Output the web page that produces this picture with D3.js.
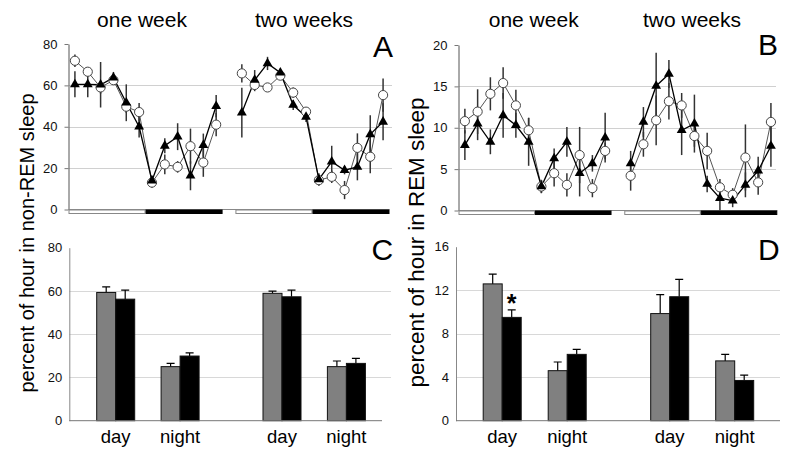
<!DOCTYPE html>
<html><head><meta charset="utf-8">
<script src="https://cdn.jsdelivr.net/npm/d3@7"></script>
<style>html,body{margin:0;padding:0;background:#fff;}svg{display:block;font-family:"Liberation Sans",Arial,sans-serif;}</style>
</head><body><svg id="c" width="800" height="451"></svg>
<script>
// ---------- DATA ----------
const weekLabels = ["one week", "two weeks"];
const phaseLabels = ["day", "night"];
// Panel A: % of hour in non-REM sleep, 12 two-hour bins per week
const nremCircleW1 = [71.9, 66.6, 59.0, 62.5, 49.7, 47.1, 13.0, 21.8, 20.6, 30.6, 22.7, 41.0];
const nremCircleW2 = [65.8, 60.2, 59.0, 64.7, 56.5, 47.3, 14.2, 15.8, 9.4, 29.8, 25.5, 55.3];
const nremCircleErrW1 = [3.0, 2.0, 3.0, 2.0, 3.0, 4.4, 2.5, 4.8, 2.8, 8.5, 6.9, 5.6];
const nremCircleErrW2 = [4.4, 3.0, 2.0, 2.0, 2.5, 2.0, 2.5, 3.0, 4.4, 7.0, 8.0, 8.0];
const nremTriW1 = [60.5, 60.5, 60.3, 63.7, 51.6, 40.0, 13.9, 30.8, 35.2, 16.3, 31.1, 50.0];
const nremTriW2 = [46.8, 62.6, 70.6, 66.1, 50.5, 44.8, 14.5, 23.1, 19.0, 20.6, 36.3, 42.4];
const nremTriErrW1 = [6.3, 6.2, 11.0, 2.8, 8.9, 5.2, 2.4, 3.6, 6.5, 7.0, 5.6, 5.4];
const nremTriErrW2 = [12.0, 4.8, 3.2, 2.0, 2.4, 2.5, 3.0, 7.7, 2.0, 6.5, 9.3, 8.9];
// Panel B: % of hour in REM sleep
const remCircleW1 = [10.8, 11.95, 14.1, 15.4, 12.7, 9.7, 2.9, 4.5, 3.1, 6.7, 2.7, 7.2];
const remCircleW2 = [4.2, 8.0, 10.9, 13.2, 12.7, 9.0, 7.2, 2.8, 1.9, 6.4, 3.4, 10.7];
const remCircleErrW1 = [1.5, 2.7, 2.0, 1.9, 1.9, 1.5, 0.8, 1.6, 1.4, 3.4, 1.1, 1.0];
const remCircleErrW2 = [1.8, 1.5, 3.0, 2.2, 1.5, 1.3, 2.2, 1.0, 0.8, 4.0, 1.5, 2.3];
const remTriW1 = [7.9, 10.5, 8.3, 11.5, 10.3, 8.3, 2.9, 6.3, 8.3, 4.5, 5.7, 8.8];
const remTriW2 = [5.7, 10.7, 15.05, 16.5, 9.7, 10.5, 3.2, 1.5, 1.2, 3.1, 4.8, 7.8];
const remTriErrW1 = [1.8, 2.0, 1.5, 2.7, 1.5, 2.9, 0.8, 1.2, 1.8, 2.8, 1.0, 3.0];
const remTriErrW2 = [1.5, 1.8, 4.0, 1.7, 3.0, 3.5, 1.0, 1.5, 0.8, 1.5, 1.7, 2.5];
// Panel C: non-REM day/night means (order: wk1 day, wk1 night, wk2 day, wk2 night)
const nremGray = [59.3, 25.0, 58.9, 25.0];
const nremGrayErr = [2.6, 1.5, 1.0, 2.6];
const nremBlack = [56.2, 29.9, 57.3, 26.5];
const nremBlackErr = [4.2, 1.5, 3.1, 2.3];
// Panel D: REM day/night means
const remGray = [12.58, 4.6, 9.85, 5.5];
const remGrayErr = [0.9, 0.8, 1.75, 0.6];
const remBlack = [9.5, 6.1, 11.4, 3.7];
const remBlackErr = [0.7, 0.45, 1.6, 0.5];
// ticks
const ticksA = [0, 20, 40, 60, 80];
const ticksB = [0, 5, 10, 15, 20];
const ticksC = [0, 20, 40, 60, 80];
const ticksD = [0, 4, 8, 12, 16];

// ---------- DRAW ----------
const svg = d3.select("#c");
svg.append("rect").attr("width", 800).attr("height", 451).attr("fill", "#fff");
const FONT = '"Liberation Sans",Arial,sans-serif';

function idx(w, j) { return w * 13 + j; }

function timePanel(cfg) {
  const g = svg.append("g");
  const x = d3.scaleLinear().domain([-0.5, 24.5]).range(cfg.xr);
  const y = d3.scaleLinear().domain(cfg.yd).range(cfg.yr);
  g.selectAll(".grid").data(cfg.ticks.slice(1, -1)).enter().append("line")
    .attr("x1", cfg.xr[0]).attr("x2", cfg.gridEnd)
    .attr("y1", d => Math.round(y(d)) + 0.5).attr("y2", d => Math.round(y(d)) + 0.5)
    .attr("stroke", "#d0d0d0").attr("stroke-width", 1);
  const ax = g.append("g").attr("transform", `translate(${cfg.xr[0]},0)`)
    .call(d3.axisLeft(y).tickValues(cfg.ticks).tickSize(4).tickPadding(7).tickSizeOuter(0));
  ax.select(".domain").attr("stroke", "#555");
  ax.selectAll(".tick line").attr("stroke", "#777");
  ax.selectAll("text").attr("font-size", 13).attr("font-family", FONT).attr("fill", "#111");
  g.append("line").attr("x1", cfg.xr[0]).attr("x2", x(24.5))
    .attr("y1", y(0)).attr("y2", y(0)).attr("stroke", "#888");
  const segs = [
    {a: -0.5, b: 5.5, dark: false}, {a: 5.5, b: 11.5, dark: true},
    {a: 12.5, b: 18.5, dark: false}, {a: 18.5, b: 24.5, dark: true}
  ];
  g.selectAll(".ld").data(segs).enter().append("rect")
    .attr("x", d => x(d.a) + 0.5).attr("width", d => x(d.b) - x(d.a) - 1)
    .attr("y", y(0) + 0.5).attr("height", 3.5)
    .attr("fill", d => d.dark ? "#000" : "#fff")
    .attr("stroke", d => d.dark ? "#000" : "#888").attr("stroke-width", 1);

  const series = [
    {w1: cfg.c1, w2: cfg.c2, e1: cfg.ce1, e2: cfg.ce2, kind: "circle"},
    {w1: cfg.t1, w2: cfg.t2, e1: cfg.te1, e2: cfg.te2, kind: "tri"}
  ].map(s => ({
    kind: s.kind,
    weeks: [s.w1.map((v, j) => ({i: idx(0, j), v, e: s.e1[j]})),
            s.w2.map((v, j) => ({i: idx(1, j), v, e: s.e2[j]}))]
  }));
  const line = d3.line().x(d => x(d.i)).y(d => y(d.v));
  series.forEach(s => s.weeks.forEach(wk => {
    g.selectAll(null).data(wk).enter().append("line")
      .attr("x1", d => x(d.i)).attr("x2", d => x(d.i))
      .attr("y1", d => y(d.v - d.e)).attr("y2", d => y(d.v + d.e))
      .attr("stroke", "#333").attr("stroke-width", 1.5);
  }));
  series.forEach(s => s.weeks.forEach(wk => {
    g.append("path").datum(wk).attr("d", line).attr("fill", "none")
      .attr("stroke", s.kind === "circle" ? "#555" : "#000")
      .attr("stroke-width", s.kind === "circle" ? 1 : 1.3);
  }));
  series[0].weeks.forEach(wk => {
    g.selectAll(null).data(wk).enter().append("circle")
      .attr("cx", d => x(d.i)).attr("cy", d => y(d.v)).attr("r", 4.6)
      .attr("fill", "#fff").attr("stroke", "#444").attr("stroke-width", 1);
  });
  const tri = d3.symbol().type(d3.symbolTriangle).size(42);
  series[1].weeks.forEach(wk => {
    g.selectAll(null).data(wk).enter().append("path")
      .attr("d", tri).attr("transform", d => `translate(${x(d.i)},${y(d.v)})`)
      .attr("fill", "#000");
  });
}

timePanel({xr: [68.5, 389.5], yd: [0, 80], yr: [209.5, 44], ticks: ticksA, gridEnd: 392,
  c1: nremCircleW1, c2: nremCircleW2, ce1: nremCircleErrW1, ce2: nremCircleErrW2,
  t1: nremTriW1, t2: nremTriW2, te1: nremTriErrW1, te2: nremTriErrW2});
timePanel({xr: [458.5, 777.3], yd: [0, 20], yr: [210.5, 45], ticks: ticksB, gridEnd: 776,
  c1: remCircleW1, c2: remCircleW2, ce1: remCircleErrW1, ce2: remCircleErrW2,
  t1: remTriW1, t2: remTriW2, te1: remTriErrW1, te2: remTriErrW2});

function barPanel(cfg) {
  const g = svg.append("g");
  const y = d3.scaleLinear().domain(cfg.yd).range(cfg.yr);
  const outer = d3.scalePoint().domain(weekLabels).range(cfg.weekCenters);
  const inner = d3.scalePoint().domain(phaseLabels).range([-cfg.half, cfg.half]);
  const bw = 19;
  g.selectAll(".grid").data(cfg.ticks.slice(1, -1)).enter().append("line")
    .attr("x1", cfg.axisX).attr("x2", cfg.gridEnd)
    .attr("y1", d => Math.round(y(d)) + 0.5).attr("y2", d => Math.round(y(d)) + 0.5)
    .attr("stroke", "#d8d8d8");
  const ax = g.append("g").attr("transform", `translate(${cfg.axisX},0)`)
    .call(d3.axisLeft(y).tickValues(cfg.ticks).tickSize(0).tickPadding(7));
  ax.select(".domain").attr("stroke", "#888");
  ax.selectAll("text").attr("font-size", 13).attr("font-family", FONT).attr("fill", "#111");
  const cats = [];
  weekLabels.forEach((w, wi) => phaseLabels.forEach((p, pi) => {
    const k = wi * 2 + pi;
    cats.push({c: outer(w) + inner(p), p,
      g: cfg.gray[k], ge: cfg.grayErr[k], b: cfg.black[k], be: cfg.blackErr[k]});
  }));
  const bars = [];
  cats.forEach(c => {
    bars.push({x: c.c - bw, v: c.g, e: c.ge, fill: "#808080"});
    bars.push({x: c.c, v: c.b, e: c.be, fill: "#000"});
  });
  g.selectAll(null).data(bars).enter().append("path")
    .attr("d", d => `M${d.x + bw / 2},${y(d.v)}V${y(d.v + d.e)}M${d.x + bw / 2 - 4},${y(d.v + d.e)}H${d.x + bw / 2 + 4}`)
    .attr("stroke", "#000").attr("stroke-width", 1.2).attr("fill", "none");
  g.selectAll(null).data(bars).enter().append("rect")
    .attr("x", d => d.x).attr("width", bw)
    .attr("y", d => y(d.v)).attr("height", d => y(0) - y(d.v))
    .attr("fill", d => d.fill).attr("stroke", "#111").attr("stroke-width", 1);
  g.append("line").attr("x1", cfg.axisX).attr("x2", cfg.baseEnd)
    .attr("y1", y(0)).attr("y2", y(0)).attr("stroke", "#777");
  g.selectAll(null).data(cats).enter().append("text")
    .attr("x", d => d.c).attr("y", 443).attr("text-anchor", "middle")
    .attr("font-size", 18.5).attr("font-family", FONT).attr("fill", "#000").text(d => d.p);
  return {y, cats};
}

barPanel({yd: [0, 80], yr: [420.7, 247.7], ticks: ticksC, axisX: 69.3, gridEnd: 391, baseEnd: 382,
  weekCenters: [147.9, 314.2], half: 32.2,
  gray: nremGray, grayErr: nremGrayErr, black: nremBlack, blackErr: nremBlackErr});
const pd = barPanel({yd: [0, 16], yr: [420.7, 246.7], ticks: ticksD, axisX: 456, gridEnd: 780, baseEnd: 780,
  weekCenters: [534.7, 702.2], half: 32.5,
  gray: remGray, grayErr: remGrayErr, black: remBlack, blackErr: remBlackErr});
svg.append("text").attr("x", pd.cats[0].c + 9.5).attr("y", pd.y(remBlack[0] + remBlackErr[0]) + 2)
  .attr("text-anchor", "middle").attr("font-size", 25).attr("font-weight", "bold")
  .attr("font-family", FONT).text("*");

const hdr = [
  {t: weekLabels[0], x: 142}, {t: weekLabels[1], x: 304},
  {t: weekLabels[0], x: 533.7}, {t: weekLabels[1], x: 692}
];
svg.selectAll(".hdr").data(hdr).enter().append("text")
  .attr("x", d => d.x).attr("y", 26.5).attr("text-anchor", "middle")
  .attr("font-size", 21).attr("font-family", FONT).text(d => d.t);
const letters = [{t: "A", x: 373, y: 56.7}, {t: "B", x: 758, y: 55}, {t: "C", x: 371.5, y: 260}, {t: "D", x: 758, y: 260}];
svg.selectAll(".let").data(letters).enter().append("text")
  .attr("x", d => d.x).attr("y", d => d.y).attr("font-size", 30).attr("font-family", FONT).text(d => d.t);
svg.append("text").attr("transform", "translate(33.5,243) rotate(-90)").attr("text-anchor", "middle")
  .attr("font-size", 20).attr("font-family", FONT).text("percent of hour in non-REM sleep");
svg.append("text").attr("transform", "translate(423.5,242.5) rotate(-90)").attr("text-anchor", "middle")
  .attr("font-size", 22.4).attr("font-family", FONT).text("percent of hour in REM sleep");
</script></body></html>
